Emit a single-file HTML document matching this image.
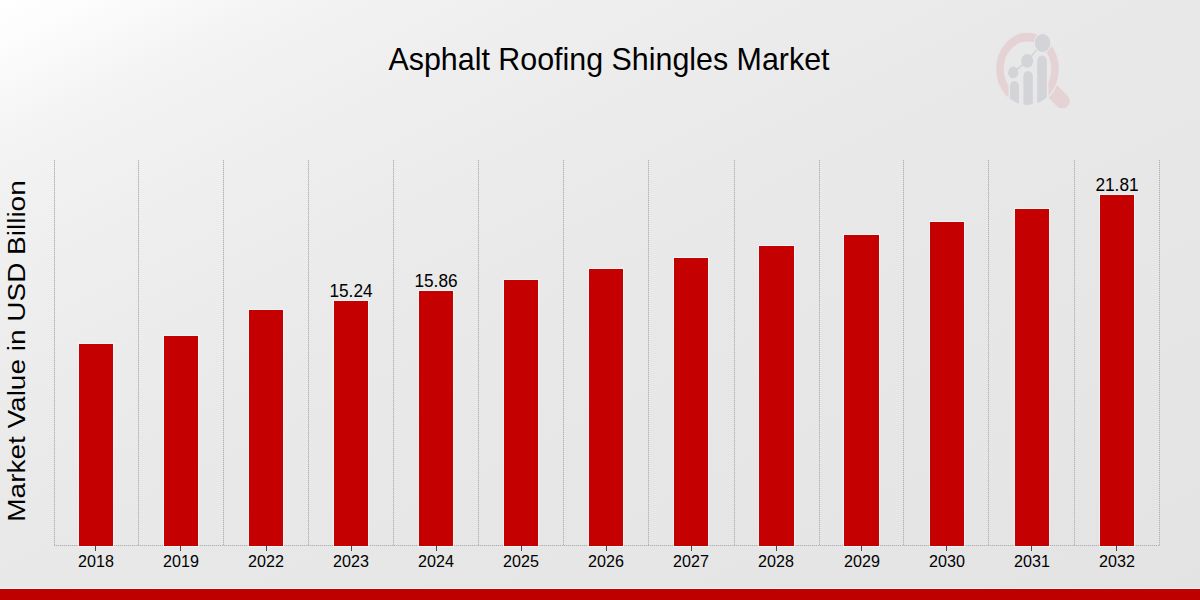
<!DOCTYPE html>
<html><head><meta charset="utf-8"><style>
html,body{margin:0;padding:0;}
body{width:1200px;height:600px;position:relative;overflow:hidden;font-family:"Liberation Sans",sans-serif;
background:linear-gradient(to bottom right,#ffffff 0%,#fcfcfc 4%,#f8f8f8 8%,#f3f3f3 12.5%,#efefef 22%,#ececec 32%,#e9e9e9 44%,#e7e7e7 60%,#e6e6e6 74%,#e3e3e3 100%);}
.gl{position:absolute;top:160px;height:385px;width:1px;background:repeating-linear-gradient(to bottom,#b4b4b4 0 1px,#d4d4d4 1px 2px);}
.ax{position:absolute;left:54px;top:545px;width:1106px;height:1px;background:repeating-linear-gradient(to right,#b4b4b4 0 1px,#d4d4d4 1px 2px);}
.bar{position:absolute;width:34.2px;background:#c40000;box-shadow:0 0 0 1px rgba(248,255,255,0.55);}
.tick{position:absolute;top:546px;height:4.5px;width:1px;background:#4a4a4a;}
.xl{position:absolute;top:551.25px;width:100px;text-align:center;font-size:16.5px;line-height:20px;color:#000;transform:scaleX(0.977);}
.vl{position:absolute;width:100px;text-align:center;font-size:18px;line-height:22px;color:#000;transform:scaleX(0.958);}
.title{position:absolute;left:0;width:1218px;top:40px;text-align:center;font-size:32px;line-height:38px;color:#000;transform:scaleX(0.95);}
.ylab{position:absolute;left:-163.5px;top:335.5px;width:360px;height:30px;line-height:30px;text-align:center;font-size:23.5px;color:#000;transform:rotate(-90deg) scaleX(1.19);}
.band{position:absolute;left:0;top:589px;width:1200px;height:11px;background:#bf0000;box-shadow:0 -1px 0 rgba(248,255,255,0.6);}
</style></head><body>
<div class="ax"></div>
<div class="gl" style="left:54px"></div>
<div class="gl" style="left:138px"></div>
<div class="gl" style="left:223px"></div>
<div class="gl" style="left:308px"></div>
<div class="gl" style="left:393px"></div>
<div class="gl" style="left:478px"></div>
<div class="gl" style="left:563px"></div>
<div class="gl" style="left:648px"></div>
<div class="gl" style="left:734px"></div>
<div class="gl" style="left:819px"></div>
<div class="gl" style="left:903px"></div>
<div class="gl" style="left:988px"></div>
<div class="gl" style="left:1074px"></div>
<div class="gl" style="left:1159px"></div>
<div class="bar" style="left:78.80px;top:344.40px;height:201.60px"></div>
<div class="bar" style="left:163.87px;top:336.00px;height:210.00px"></div>
<div class="bar" style="left:248.94px;top:310.00px;height:236.00px"></div>
<div class="bar" style="left:334.01px;top:301.00px;height:245.00px"></div>
<div class="bar" style="left:419.08px;top:291.30px;height:254.70px"></div>
<div class="bar" style="left:504.15px;top:280.00px;height:266.00px"></div>
<div class="bar" style="left:589.22px;top:269.00px;height:277.00px"></div>
<div class="bar" style="left:674.29px;top:258.10px;height:287.90px"></div>
<div class="bar" style="left:759.36px;top:246.25px;height:299.75px"></div>
<div class="bar" style="left:844.43px;top:234.75px;height:311.25px"></div>
<div class="bar" style="left:929.50px;top:222.00px;height:324.00px"></div>
<div class="bar" style="left:1014.57px;top:208.50px;height:337.50px"></div>
<div class="bar" style="left:1099.64px;top:195.00px;height:351.00px"></div>
<div class="tick" style="left:95.40px"></div>
<div class="xl" style="left:45.90px">2018</div>
<div class="tick" style="left:180.47px"></div>
<div class="xl" style="left:130.97px">2019</div>
<div class="tick" style="left:265.54px"></div>
<div class="xl" style="left:216.04px">2022</div>
<div class="tick" style="left:350.61px"></div>
<div class="xl" style="left:301.11px">2023</div>
<div class="tick" style="left:435.68px"></div>
<div class="xl" style="left:386.18px">2024</div>
<div class="tick" style="left:520.75px"></div>
<div class="xl" style="left:471.25px">2025</div>
<div class="tick" style="left:605.82px"></div>
<div class="xl" style="left:556.32px">2026</div>
<div class="tick" style="left:690.89px"></div>
<div class="xl" style="left:641.39px">2027</div>
<div class="tick" style="left:775.96px"></div>
<div class="xl" style="left:726.46px">2028</div>
<div class="tick" style="left:861.03px"></div>
<div class="xl" style="left:811.53px">2029</div>
<div class="tick" style="left:946.10px"></div>
<div class="xl" style="left:896.60px">2030</div>
<div class="tick" style="left:1031.17px"></div>
<div class="xl" style="left:981.67px">2031</div>
<div class="tick" style="left:1116.24px"></div>
<div class="xl" style="left:1066.74px">2032</div>
<div class="vl" style="left:301.11px;top:280.00px">15.24</div>
<div class="vl" style="left:386.18px;top:270.30px">15.86</div>
<div class="vl" style="left:1066.74px;top:174.00px">21.81</div>
<div class="title">Asphalt Roofing Shingles Market</div>
<div class="ylab">Market Value in USD Billion</div>
<div class="band"></div>
<svg style="position:absolute;left:985px;top:25px" width="95" height="90" viewBox="985 25 95 90">
<defs><clipPath id="oc"><circle cx="0" cy="0" r="31.3"/></clipPath><clipPath id="oc2"><circle cx="0" cy="0" r="32.8"/></clipPath></defs>
<line x1="1045" y1="83.5" x2="1062.3" y2="100.9" stroke="#e4d2d5" stroke-width="14.9" stroke-linecap="round"/>
<g transform="translate(1027.5 68.9) scale(1 1.153)">
<circle cx="0" cy="0" r="32.8" fill="#e8e8e8"/>
<circle cx="0" cy="0" r="27.55" fill="none" stroke="#e4d2d5" stroke-width="7.5"/>
<rect x="-19" y="12" width="40" height="30" fill="#e8e8e8" clip-path="url(#oc2)"/>
<g clip-path="url(#oc)">
<rect x="-17.5" y="10.5" width="9" height="40" rx="4.5" ry="4.5" fill="#d3d4d7"/>
<rect x="-4.1" y="1.8" width="9.4" height="50" rx="4.7" ry="4.7" fill="#d3d4d7"/>
<rect x="9.7" y="-11.6" width="9.7" height="60" rx="4.8" ry="4.8" fill="#d3d4d7"/>
</g>
<polyline points="-14.3,3.1 -0.3,-7.0 15.1,-22.5" fill="none" stroke="#d3d4d7" stroke-width="1.4"/>
<circle cx="-14.3" cy="3.1" r="5.1" fill="#d3d4d7"/>
<circle cx="-0.3" cy="-7.0" r="6" fill="#d3d4d7"/>
<circle cx="15.1" cy="-22.5" r="7.6" fill="#d3d4d7" stroke="#e8e8e8" stroke-width="2.4" paint-order="stroke"/>
<circle cx="15.1" cy="-22.5" r="7.6" fill="#d3d4d7"/>
</g>
</svg>
</body></html>
